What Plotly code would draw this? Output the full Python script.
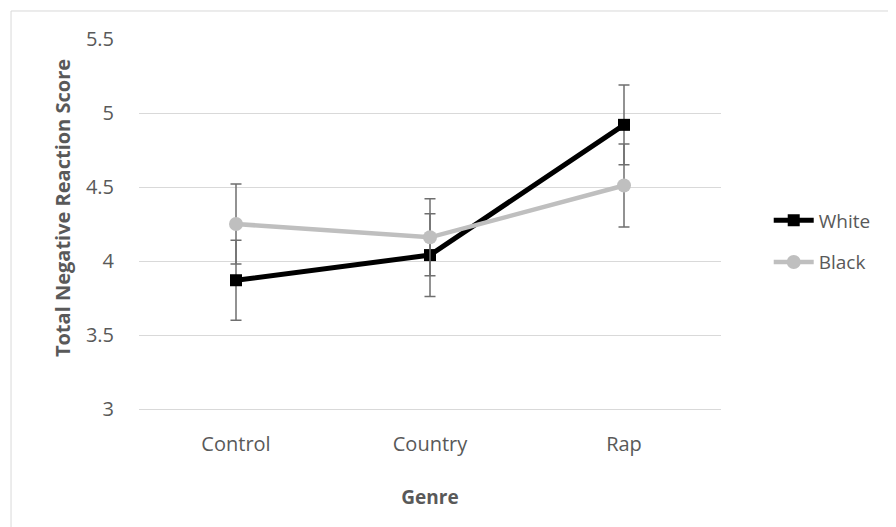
import plotly.graph_objects as go

genres = ["Control", "Country", "Rap"]
white_vals = [3.87, 4.04, 4.92]
white_err = [0.27, 0.28, 0.27]
black_vals = [4.25, 4.16, 4.51]
black_err = [0.27, 0.26, 0.28]
y_ticks = [3, 3.5, 4, 4.5, 5, 5.5]
y_tick_text = ["3", "3.5", "4", "4.5", "5", "5.5"]

FONT = "Open Sans, Noto Sans, sans-serif"
TXT = "#595959"
ERR = "#6f6f6f"

fig = go.Figure()
fig.add_trace(go.Scatter(
    x=genres, y=white_vals, name="White", mode="lines+markers", legendgroup="w",
    line=dict(color="black", width=5),
    marker=dict(symbol="square", size=12, color="black"),
    error_y=dict(type="data", array=white_err, visible=True, color=ERR, thickness=1.5, width=5.5),
))
fig.add_trace(go.Scatter(
    x=genres, y=black_vals, name="Black", mode="lines+markers", legendgroup="b",
    line=dict(color="#bfbfbf", width=4.5),
    marker=dict(symbol="circle", size=14, color="#bfbfbf"),
    error_y=dict(type="data", array=black_err, visible=True, color=ERR, thickness=1.5, width=5.5),
))

fig.update_layout(
    width=896, height=527,
    margin=dict(l=131, r=183, t=31, b=126),
    paper_bgcolor="white", plot_bgcolor="white",
    font=dict(family=FONT, size=20, color=TXT),
    showlegend=True,
    legend=dict(x=1.082, y=0.453, xanchor="left", yanchor="middle",
                font=dict(family=FONT, size=19, color=TXT),
                traceorder="grouped", tracegroupgap=14,
                itemwidth=40, bgcolor="rgba(0,0,0,0)"),
    xaxis=dict(
        type="category", range=[-0.5, 2.5],
        showgrid=False, showline=True, linecolor="#d9d9d9", linewidth=1,
        zeroline=False, ticks="", ticklabelstandoff=17,
        tickfont=dict(family=FONT, size=20, color=TXT),
        title=dict(text="<b>Genre</b>", font=dict(family=FONT, size=19, color=TXT), standoff=34),
    ),
    yaxis=dict(
        range=[3, 5.5], tickvals=y_ticks, ticktext=y_tick_text,
        showgrid=True, gridcolor="#d9d9d9", gridwidth=1,
        zeroline=False, showline=False, ticks="",
        tickfont=dict(family=FONT, size=20, color=TXT),
        ticklabelstandoff=24,
    ),
    annotations=[
        dict(text="<b>Total Negative Reaction Score</b>", textangle=-90,
             xref="paper", yref="paper", x=-0.1323, y=0.543,
             xanchor="center", yanchor="middle", showarrow=False,
             font=dict(family=FONT, size=20, color=TXT)),
    ],
    shapes=[
        dict(type="rect", xref="paper", yref="paper",
             x0=-0.2199, x1=1.35, y0=-0.40, y1=1.0757,
             line=dict(color="#d9d9d9", width=1), fillcolor="rgba(0,0,0,0)", layer="below"),
    ],
)

fig.write_html("out.html")
